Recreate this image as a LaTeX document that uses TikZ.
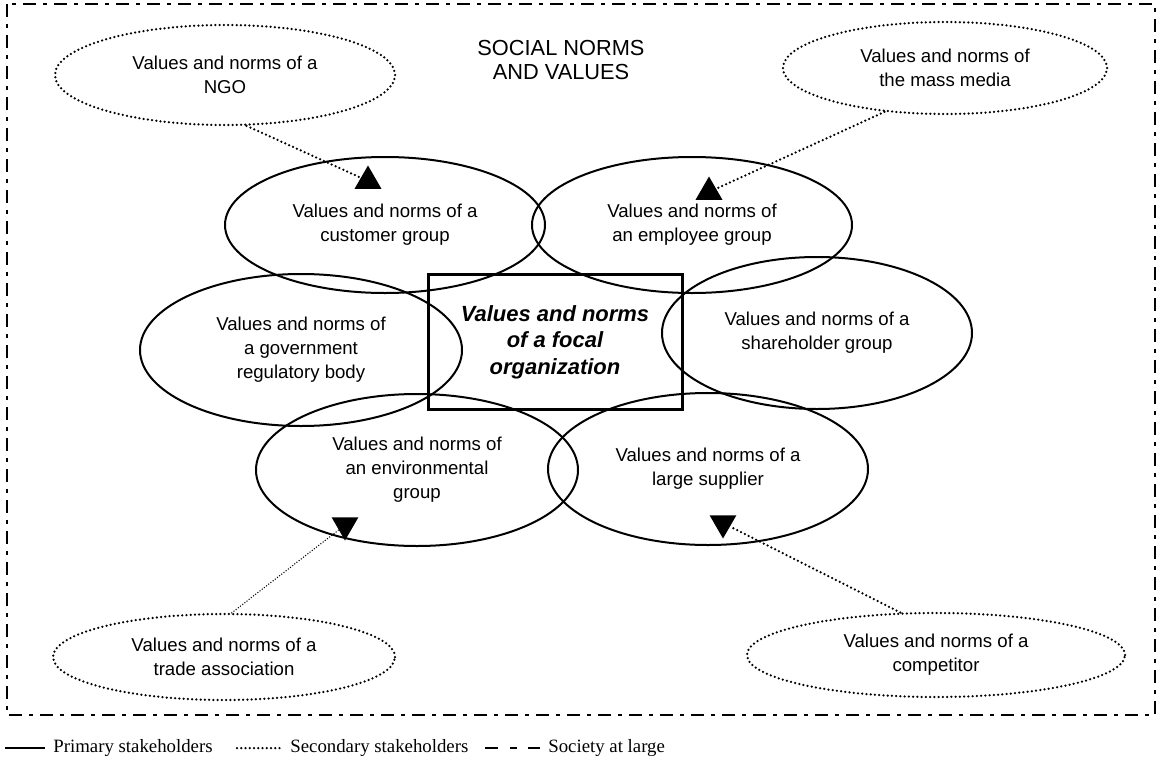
\documentclass[tikz,border=0pt]{standalone}
\usepackage{fontspec}
\setmainfont{Liberation Sans}
\newfontfamily\legendfont{Liberation Serif}
\usetikzlibrary{shapes.geometric}
\tikzset{
  prim/.style={draw=black, ellipse, line width=0.4mm, inner sep=0pt, align=center,
    font=\fontsize{10.6}{13.6}\selectfont},
  sec/.style={draw=black, ellipse, line width=0.5mm, line cap=round,
    dash pattern=on 0pt off 0.85mm, inner sep=0pt, align=center,
    font=\fontsize{10.6}{13.6}\selectfont},
  focal/.style={draw=black, rectangle, line width=0.6mm, inner sep=0pt, align=center,
    font=\fontsize{12.5}{15}\selectfont\bfseries\itshape},
  tipup/.style={fill=black, regular polygon, regular polygon sides=3,
    minimum size=6.2mm, inner sep=0pt},
  tipdown/.style={tipup, shape border rotate=180},
  secline/.style={line width=0.5mm, line cap=round, dash pattern=on 0pt off 0.85mm},
  thinsec/.style={line width=0.3mm, line cap=round, dash pattern=on 0pt off 0.55mm},
  society/.style={line width=0.45mm, dash pattern=on 2.6mm off 1.4mm on 0.8mm off 1.4mm},
  legtext/.style={anchor=west, inner sep=0pt, font=\legendfont\fontsize{10.7}{12}\selectfont}
}

\begin{document}
\begin{tikzpicture}[x=0.2mm, y=-0.2mm]
  \useasboundingbox (0,0) rectangle (1157,760);
  % society at large
  \draw[society] (7,4) rectangle (1155,715);
  \node[align=center, font=\fontsize{12.4}{14.2}\selectfont] (title) at (561,60) {SOCIAL NORMS\\AND VALUES};

  % primary stakeholders
  \node[prim, minimum width=64mm, minimum height=27.2mm] (cust) at (385,225) {Values and norms of a\\customer group};
  \node[prim, minimum width=64mm, minimum height=27.2mm] (empl) at (692,225) {Values and norms of\\an employee group};
  \node[prim, minimum width=64.4mm, minimum height=30.4mm] (gov) at (301,350) {Values and norms of\\a government\\regulatory body};
  \node[prim, minimum width=62mm, minimum height=30.4mm] (share) at (817,333) {Values and norms of a\\shareholder group};
  \node[prim, minimum width=64.4mm, minimum height=30.4mm] (env) at (417,470) {Values and norms of\\an environmental\\group};
  \node[prim, minimum width=64mm, minimum height=30.4mm] (supp) at (708,469) {Values and norms of a\\large supplier};
  \node[focal, minimum width=50.8mm, minimum height=27mm] (org) at (555,342) {Values and norms\\of a focal\\organization};

  % secondary stakeholders
  \node[sec, minimum width=68mm, minimum height=20mm] (ngo) at (225,75) {Values and norms of a\\NGO};
  \node[sec, minimum width=64.8mm, minimum height=18.4mm] (media) at (945,68) {Values and norms of\\the mass media};
  \node[sec, minimum width=68.4mm, minimum height=17.2mm] (trade) at (224,657) {Values and norms of a\\trade association};
  \node[sec, minimum width=75.6mm, minimum height=16.8mm] (comp) at (936,655) {Values and norms of a\\competitor};

  % arrow tips
  \node[tipup] (tngo) at (368,181) {};
  \node[tipup] (tmedia) at (709,192) {};
  \node[tipdown] (ttrade) at (345,525) {};
  \node[tipdown] (tcomp) at (723,523) {};

  \draw[secline] (ngo.-67) -- (tngo);
  \draw[secline] (media.-144) -- (tmedia);
  \draw[thinsec] (trade.80) -- (ttrade);
  \draw[secline] (comp.130) -- (tcomp);

  % legend
  \draw[line width=0.4mm] (5,748) -- (45,748);
  \node[legtext] (lprim) at (53,748) {Primary stakeholders};
  \draw[secline] (237,748) -- (282,748);
  \node[legtext] (lsec) at (290,748) {Secondary stakeholders};
  \draw[line width=0.5mm, dash pattern=on 2.6mm off 2.4mm on 1.4mm off 2.2mm] (485,748) -- (540,748);
  \node[legtext] (lsoc) at (548,748) {Society at large};
\end{tikzpicture}
\end{document}
